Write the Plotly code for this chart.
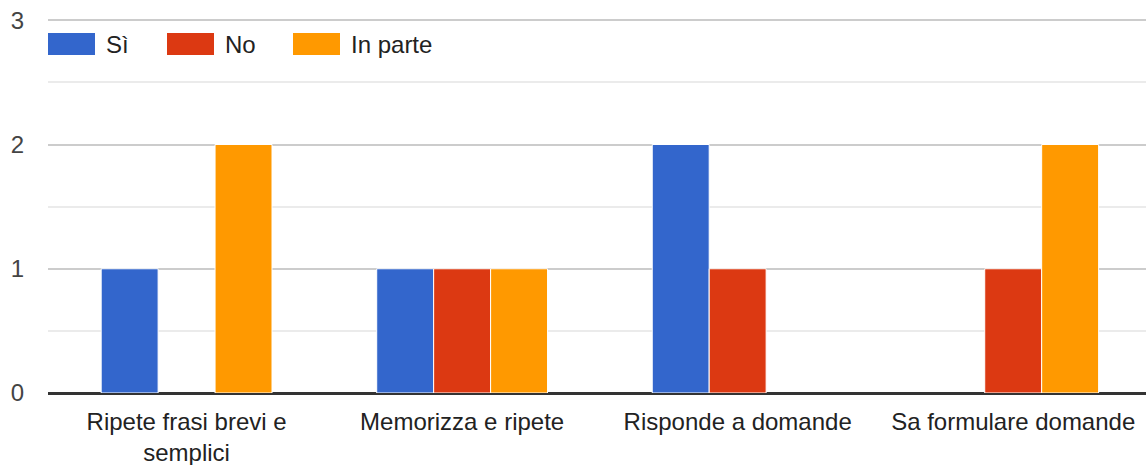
import plotly.graph_objects as go

categories = ["Ripete frasi brevi e<br>semplici", "Memorizza e ripete",
              "Risponde a domande", "Sa formulare domande"]
series_names = ["Sì", "No", "In parte"]
si_values = [1, 1, 2, 0]
no_values = [0, 1, 1, 1]
in_parte_values = [2, 1, 0, 2]
colors = ["#3366cc", "#dc3912", "#ff9900"]

fig = go.Figure()
for name, vals, col in zip(series_names, [si_values, no_values, in_parte_values], colors):
    fig.add_trace(go.Bar(
        x=categories, y=vals, name=name,
        # no white outline on empty bars, so the baseline stays clean
        marker=dict(color=col, line=dict(color="white",
                                         width=[1 if v > 0 else 0 for v in vals])),
        showlegend=False,
    ))

# custom legend, Google Forms style (big swatches)
legend_x = [48, 167, 293]
for name, col, lx in zip(series_names, colors, legend_x):
    fig.add_shape(type="rect", xref="paper", yref="paper",
                  x0=(lx - 48) / 1098, x1=(lx + 47 - 48) / 1098,
                  y0=(393 - 55) / 374, y1=(393 - 33) / 374,
                  fillcolor=col, line=dict(width=0))
    fig.add_annotation(text=name, xref="paper", yref="paper",
                       x=(lx + 56 - 48) / 1098, y=(393 - 44) / 374,
                       xanchor="left", yanchor="middle", showarrow=False,
                       font=dict(size=24, color="#222222"))

fig.update_layout(
    width=1146, height=465,
    margin=dict(l=48, r=0, t=19, b=72),
    paper_bgcolor="white", plot_bgcolor="white",
    font=dict(family="Arial, Liberation Sans", size=24, color="#222222"),
    barmode="group", bargap=0.38, bargroupgap=0,
    xaxis=dict(showgrid=False, showline=False, ticks="", automargin=False,
               range=[-0.503, 3.482],
               tickfont=dict(size=24, color="#222222"),
               ticklabelstandoff=12),
    yaxis=dict(range=[0, 3.01], tickvals=[0, 1, 2, 3], showgrid=True,
               gridcolor="#cccccc", gridwidth=2, automargin=False,
               zeroline=True, zerolinecolor="#333333", zerolinewidth=3,
               tickfont=dict(size=24, color="#444444"), ticklabelstandoff=23,
               minor=dict(dtick=0.5, showgrid=True, gridcolor="#ebebeb", gridwidth=2)),
)

# the page body has a default 8px margin; drop it so the chart sits at 0,0
fig.write_html("out.html", config={"displayModeBar": False},
               post_script="document.body.style.margin='0px';")
